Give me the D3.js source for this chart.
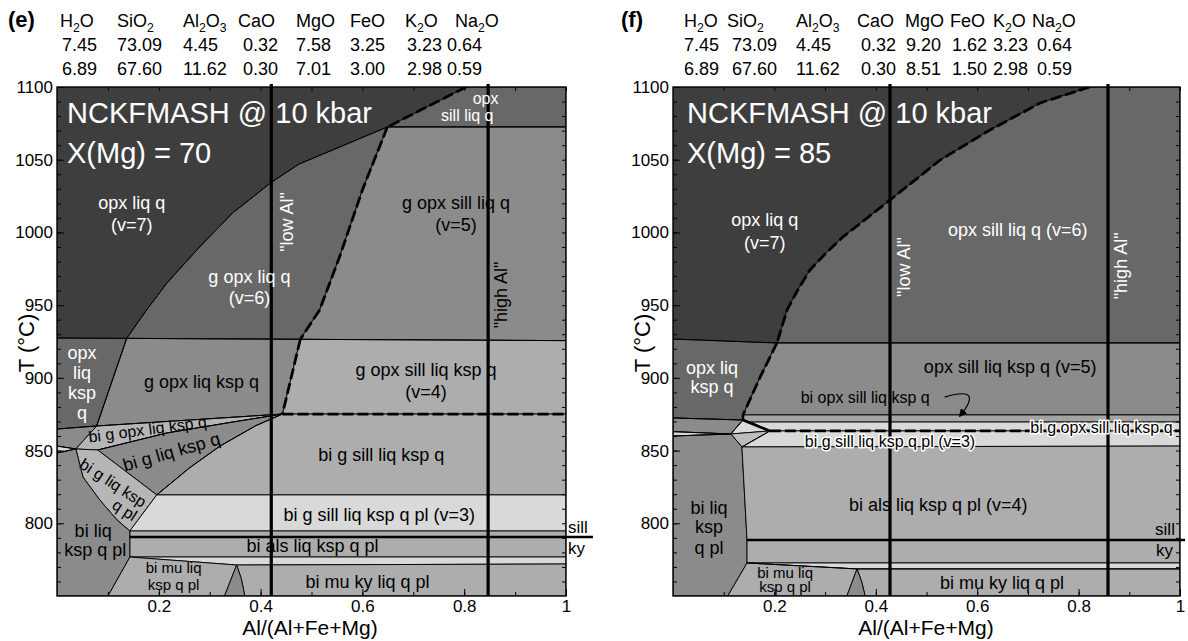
<!DOCTYPE html>
<html><head><meta charset="utf-8">
<script src="https://cdn.jsdelivr.net/npm/d3@7"></script>
<style>
body{margin:0;background:#fff}
svg{display:block}
text{font-family:"Liberation Sans",Arial,Helvetica,sans-serif}
</style>
</head><body>
<svg id="c" width="1188" height="641"></svg>
<script>
// ---------------- DATA ----------------
const oxides = ["H2O","SiO2","Al2O3","CaO","MgO","FeO","K2O","Na2O"];
const compE_low  = [7.45,73.09,4.45,0.32,7.58,3.25,3.23,0.64];
const compE_high = [6.89,67.60,11.62,0.30,7.01,3.00,2.98,0.59];
const compF_low  = [7.45,73.09,4.45,0.32,9.20,1.62,3.23,0.64];
const compF_high = [6.89,67.60,11.62,0.30,8.51,1.50,2.98,0.59];
const yTickValues = [800,850,900,950,1000,1050,1100];
const xTickValues = [0.2,0.4,0.6,0.8,1];
const xTickLabels = ["0.2","0.4","0.6","0.8","1"];
const lowAl  = {e:0.421, f:0.428};
const highAl = {e:0.847, f:0.858};

// Panel (e) boundaries  [X(Al), T °C]
const eThin      = [[0.137,927.15],[0.176,946.7],[0.216,965.2],[0.280,990.0],[0.345,1013.4],[0.422,1034.7],[0.476,1047.1],[0.649,1072.5]];
const eDashTop   = [[0.804,1100],[0.649,1072.5]];
const eDashUpper = [[0.649,1072.5],[0.600,1029.2],[0.555,983.1],[0.516,946.7],[0.478,926.5]];
const eDashLower = [[0.478,926.5],[0.443,875.1]];
const eDashH     = [[0.443,875.1],[1,875.1]];
const eH927      = [[0,927.4],[0.137,927.15],[0.478,926.5],[1,925.6]];
const eH1072     = [[0.649,1072.5],[1,1072.5]];
const eOpxKsp    = [[0.137,927.15],[0.078,866.9]];
const eKspIn     = [[0,864.8],[0.078,866.9],[0.443,875.1]];
const eStripTop  = [[0,853.1],[0.037,851.1]];
const eStripBot  = [[0,848.3],[0.037,851.1]];
const eBiIn      = [[0.080,850.4],[0.216,862.1],[0.345,869.6],[0.443,875.1]];
const eGout      = [[0.443,875.1],[0.39,867.0],[0.32,853.0],[0.26,838.0],[0.196,819.5]];
const ePlL       = [[0.037,851.1],[0.051,831.8],[0.084,816.0],[0.118,802.3],[0.143,794.7]];
const eSillKy    = [[0.143,790.6],[1.053,790.6]];
const eMuTop     = [[0.143,776.8],[0.353,771.3],[1,772.0]];
const eTri       = [[0.329,750],[0.353,771.3],[0.362,762],[0.369,750]];

// Panel (f) boundaries
const fDash      = [[0.822,1100],[0.724,1089.0],[0.625,1070.4],[0.527,1049.8],[0.428,1022.3],[0.335,996.9],[0.302,985.9],[0.270,974.2],[0.246,960.4],[0.225,946.7],[0.205,924.0]];
const fDashLower = [[0.205,924.0],[0.172,900.6],[0.138,874.5]];
const fThick     = [[0.138,874.5],[0.138,871.0],[0.191,863.5]];
const fDashH     = [[0.191,863.5],[1,863.5]];
const fH924      = [[0,926.7],[0.205,924.0],[1,924.0]];
const fOpxKspBot = [[0,872.4],[0.138,871.0]];
const fStripTop  = [[0,863.0],[0.114,861.4]];
const fStripBot  = [[0,860.0],[0.114,861.4]];
const fDiamond   = [[0.114,861.4],[0.138,871.0],[0.191,863.5],[0.136,852.5]];
const fLeftB     = [[0.136,852.5],[0.146,788.5],[0.146,772.7],[0.108,750]];
const fSillKy    = [[0.146,788.5],[1.01,788.5]];
const fMuTop     = [[0.146,772.7],[0.363,768.6],[1,768.6]];
const fTri       = [[0.343,750],[0.363,768.6],[0.372,760],[0.379,750]];
const fArrow     = [[0.536,886.8],[0.615,895.0],[0.566,873.8]];

// ---------------- STYLE / LAYOUT ----------------
const C1="#3e3e3e", C2="#686868", C3="#8b8b8b", C4="#adadad", C4b="#b6b6b6", C5="#d9d9d9";
const rev = a => a.slice().reverse();

const eRegions = [
  {fill:C2, pts:[...eDashTop,[1,1072.5],[1,1100]]},
  {fill:C2, pts:[...eThin, ...eDashUpper.slice(1)]},
  {fill:C3, pts:[...eDashUpper,[1,925.6],[1,1072.5]]},
  {fill:C2, pts:[[0,927.4],[0.137,927.15],[0.078,866.9],[0,864.8]]},
  {fill:C3, pts:[[0.137,927.15],[0.478,926.5],[0.443,875.1],[0.078,866.9]]},
  {fill:C4, pts:[[0.478,926.5],[1,925.6],[1,875.1],[0.443,875.1]]},
  {fill:C3, pts:[[0,864.8],[0.078,866.9],[0.037,851.1],[0,853.1]]},
  {fill:C5, pts:[[0,853.1],[0.037,851.1],[0,848.3]]},
  {fill:C4b,pts:[[0.037,851.1],[0.078,866.9],[0.443,875.1],...rev(eBiIn).slice(1)]},
  {fill:C3, pts:[...eBiIn, ...eGout.slice(1)]},
  {fill:C4b,pts:[[0.037,851.1],[0.080,850.4],[0.196,819.5],[0.143,794.7],...rev(ePlL).slice(1)]},
  {fill:C4, pts:[[0.443,875.1],[1,875.1],[1,819.5],...rev(eGout).slice(0,-1)]},
  {fill:C5, pts:[[0.196,819.5],[1,819.5],[1,794.7],[0.143,794.7]]},
  {fill:C4, pts:[[0.143,794.7],[1,794.7],[1,776.8],[0.143,776.8]]},
  {fill:C5, pts:[[0.143,776.8],[1,776.8],[1,772.0],[0.353,771.3]]},
  {fill:C4, pts:[[0.353,771.3],[1,772.0],[1,750],[0.369,750],[0.362,762]]},
  {fill:C4, pts:[[0.143,776.8],[0.353,771.3],[0.329,750],[0.100,750]]},
  {fill:C3, pts:eTri},
  {fill:C3, pts:[[0,848.3],...ePlL,[0.143,776.8],[0.100,750],[0,750]]}
];

const fRegions = [
  {fill:C2, pts:[...fDash,[1,924.0],[1,1100]]},
  {fill:C2, pts:[[0,926.7],[0.205,924.0],...fDashLower.slice(1),[0.138,871.0],[0,872.4]]},
  {fill:C3, pts:[[0.205,924.0],[1,924.0],[1,874.5],[0.138,874.5],[0.172,900.6]]},
  {fill:"#a4a4a4", pts:[[0.138,874.5],[1,874.5],[1,869.6],[0.154,869.6],[0.138,871.0]]},
  {fill:C5, pts:[[0.154,869.6],[1,869.6],[1,863.5],[0.191,863.5]]},
  {fill:C5, pts:[[0.191,863.5],[1,863.5],[1,853.1],[0.136,852.5]]},
  {fill:C3, pts:[[0,872.4],[0.138,871.0],[0.114,861.4],[0,863.0]]},
  {fill:C5, pts:[[0,863.0],[0.114,861.4],[0,860.0]]},
  {fill:C5, pts:[[0.114,861.4],[0.138,871.0],[0.191,863.5]]},
  {fill:"#bcbcbc", pts:[[0.114,861.4],[0.191,863.5],[0.136,852.5]]},
  {fill:C3, pts:[[0,860.0],[0.114,861.4],...fLeftB,[0,750]]},
  {fill:C4, pts:[[0.136,852.5],[1,853.1],[1,772.7],[0.146,772.7],[0.146,788.5]]},
  {fill:C5, pts:[[0.146,772.7],[1,772.7],[1,768.6],[0.363,768.6]]},
  {fill:C4, pts:[[0.363,768.6],[1,768.6],[1,750],[0.379,750],[0.372,760]]},
  {fill:C4, pts:[[0.146,772.7],[0.363,768.6],[0.343,750],[0.108,750]]},
  {fill:C3, pts:fTri}
];

// annotations: text, position (X, T), colour, size, rotation
const eAnnotations = [
  {t:"opx liq q", x:0.147, T:1020.2, c:"#fff"},
  {t:"(v=7)", x:0.147, T:1005.1, c:"#fff"},
  {t:"g opx liq q", x:0.378, T:969.4, c:"#fff"},
  {t:"(v=6)", x:0.378, T:954.9, c:"#fff"},
  {t:"g opx sill liq q", x:0.784, T:1020.2, c:"#000"},
  {t:"(v=5)", x:0.784, T:1005.1, c:"#000"},
  {t:"opx", x:0.842, T:1092.3, c:"#fff", s:16},
  {t:"sill liq q", x:0.806, T:1080.3, c:"#fff", s:16},
  {t:"opx", x:0.049, T:917.1, c:"#fff"},
  {t:"liq", x:0.049, T:903.3, c:"#fff"},
  {t:"ksp", x:0.049, T:889.6, c:"#fff"},
  {t:"q", x:0.049, T:875.8, c:"#fff"},
  {t:"g opx liq ksp q", x:0.284, T:897.2, c:"#000"},
  {t:"g opx sill liq ksp q", x:0.725, T:905.4, c:"#000"},
  {t:"(v=4)", x:0.725, T:890.3, c:"#000"},
  {t:"bi g opx liq ksp q", x:0.178, T:864.6, c:"#000", s:16, r:-7.5},
  {t:"bi g liq ksp q", x:0.225, T:849.0, c:"#000", s:18, r:-16},
  {t:"bi g liq ksp", x:0.110, T:827.7, c:"#000", s:16, r:33},
  {t:"q pl", x:0.133, T:809.1, c:"#000", s:16, r:33},
  {t:"bi g sill liq ksp q", x:0.637, T:846.9, c:"#000"},
  {t:"bi g sill liq ksp q pl (v=3)", x:0.633, T:805.7, c:"#000"},
  {t:"bi als liq ksp q pl", x:0.502, T:784.6, c:"#000"},
  {t:"bi liq", x:0.071, T:794.7, c:"#000"},
  {t:"ksp q pl", x:0.075, T:781.6, c:"#000"},
  {t:"bi mu liq", x:0.229, T:769.3, c:"#000", s:15},
  {t:"ksp q pl", x:0.229, T:757.6, c:"#000", s:15},
  {t:"bi mu ky liq q pl", x:0.610, T:759.6, c:"#000"},
  {t:"sill", x:1.004, T:796.8, c:"#000", a:"start", s:17},
  {t:"ky", x:1.004, T:783.0, c:"#000", a:"start", s:17},
  {t:"\"low Al\"", x:0.451, T:1007.2, c:"#fff", r:-90},
  {t:"\"high Al\"", x:0.873, T:957.0, c:"#000", r:-90}
];
const fAnnotations = [
  {t:"opx liq q", x:0.181, T:1008.5, c:"#fff"},
  {t:"(v=7)", x:0.181, T:992.7, c:"#fff"},
  {t:"opx sill liq q (v=6)", x:0.680, T:1001.7, c:"#fff"},
  {t:"opx liq", x:0.077, T:906.8, c:"#fff"},
  {t:"ksp q", x:0.077, T:893.7, c:"#fff"},
  {t:"opx sill liq ksp q (v=5)", x:0.665, T:907.5, c:"#000"},
  {t:"bi opx sill liq ksp q", x:0.379, T:886.8, c:"#000", s:16},
  {t:"bi g opx sill liq ksp q", x:0.845, T:866.0, c:"#000", s:16, halo:true},
  {t:"bi g sill liq ksp q pl (v=3)", x:0.428, T:855.9, c:"#000", s:16, halo:true},
  {t:"bi als liq ksp q pl (v=4)", x:0.523, T:812.6, c:"#000"},
  {t:"bi liq", x:0.071, T:810.5, c:"#000"},
  {t:"ksp", x:0.071, T:797.4, c:"#000"},
  {t:"q pl", x:0.071, T:783.0, c:"#000"},
  {t:"bi mu liq", x:0.221, T:766.5, c:"#000", s:15},
  {t:"ksp q pl", x:0.221, T:756.2, c:"#000", s:15},
  {t:"bi mu ky liq q pl", x:0.649, T:759.0, c:"#000"},
  {t:"sill", x:0.99, T:795.4, c:"#000", a:"end", s:17},
  {t:"ky", x:0.986, T:781.6, c:"#000", a:"end", s:17},
  {t:"\"low Al\"", x:0.456, T:976.2, c:"#fff", r:-90},
  {t:"\"high Al\"", x:0.884, T:977.0, c:"#fff", r:-90}
];

const panels = [
  {id:"e", x0:57, x1:566, label:"(e)", labelX:8, xm:"70",
   oxX:[60,117,183,238,296,350,405,455], valX:[62,117,183,243,296,350,407,447],
   low:compE_low, high:compE_high, regions:eRegions, ann:eAnnotations,
   thin:[eThin,eH927,eH1072,eOpxKsp,eKspIn,eStripTop,eStripBot,eBiIn,eGout],
   dashed:[eDashTop,eDashUpper,eDashLower,eDashH], thick:[], sillky:eSillKy,
   al:[lowAl.e, highAl.e], titleX:67, xlabX:310, ylabX:34},
  {id:"f", x0:673, x1:1180, label:"(f)", labelX:621, xm:"85",
   oxX:[684,727,796,857,905,950,993,1032], valX:[684,732,796,861,906,952,993,1037],
   low:compF_low, high:compF_high, regions:fRegions, ann:fAnnotations,
   thin:[fH924,fOpxKspBot,fStripTop,fStripBot,fDiamond,fMuTop],
   dashed:[fDash,fDashLower,fDashH], thick:[fThick], sillky:fSillKy,
   al:[lowAl.f, highAl.f], titleX:687, xlabX:926, ylabX:650, arrow:fArrow}
];

// ---------------- DRAW ----------------
const svg = d3.select("#c");
const defs = svg.append("defs");
defs.append("marker").attr("id","ah").attr("viewBox","0 0 10 10").attr("refX",8).attr("refY",5)
  .attr("markerWidth",7).attr("markerHeight",7).attr("orient","auto-start-reverse")
  .append("path").attr("d","M0,0 L10,5 L0,10 z").attr("fill","#000");

function formula(sel, s, size) {
  const parts = s.match(/[A-Za-z]+|\d+/g);
  parts.forEach(p => {
    if (/\d/.test(p)) sel.append("tspan").attr("font-size", size*0.68).attr("dy", size*0.25).text(p);
    else {
      const t = sel.append("tspan").text(p);
      if (sel.node().childNodes.length > 1) t.attr("dy", -size*0.25);
    }
  });
}

const HF = 18;
panels.forEach(p => {
  const x = d3.scaleLinear().domain([0,1]).range([p.x0, p.x1]);
  const y = d3.scaleLinear().domain([750,1100]).range([596,87]);
  const line = d3.line().x(d=>x(d[0])).y(d=>y(d[1]));
  const g = svg.append("g");

  // header
  g.append("text").attr("x",p.labelX).attr("y",27).attr("font-size",22).attr("font-weight","bold").text(p.label);
  oxides.forEach((o,i)=>{
    formula(g.append("text").attr("x",p.oxX[i]).attr("y",27).attr("font-size",HF), o, HF);
    g.append("text").attr("x",p.valX[i]).attr("y",51).attr("font-size",HF).text(p.low[i].toFixed(2));
    g.append("text").attr("x",p.valX[i]).attr("y",75).attr("font-size",HF).text(p.high[i].toFixed(2));
  });

  const clipId = "clip"+p.id;
  defs.append("clipPath").attr("id",clipId).append("rect")
    .attr("x",x(0)).attr("y",y(1100)).attr("width",x(1)-x(0)).attr("height",y(750)-y(1100));
  const plot = g.append("g").attr("clip-path",`url(#${clipId})`);
  plot.append("rect").attr("x",x(0)).attr("y",y(1100)).attr("width",x(1)-x(0)).attr("height",y(750)-y(1100)).attr("fill",C1);
  p.regions.forEach(r=>{
    plot.append("path").attr("d",line(r.pts)+"Z").attr("fill",r.fill)
      .attr("stroke","#000").attr("stroke-width",0.9).attr("stroke-linejoin","round");
  });
  p.thin.forEach(b=>plot.append("path").attr("d",line(b)).attr("fill","none").attr("stroke","#000").attr("stroke-width",0.9));
  p.thick.forEach(b=>plot.append("path").attr("d",line(b)).attr("fill","none").attr("stroke","#000").attr("stroke-width",2.6));
  p.dashed.forEach(b=>{
    plot.append("path").attr("d",line(b)).attr("fill","none").attr("stroke","#000").attr("stroke-width",2.8)
      .attr("stroke-dasharray","11,4").attr("stroke-linejoin","round");
  });
  // Al composition lines
  p.al.forEach(v=>{
    g.append("line").attr("x1",x(v)).attr("x2",x(v)).attr("y1",y(1100)-3).attr("y2",y(750))
      .attr("stroke","#000").attr("stroke-width",3.2);
  });
  // sill = ky
  g.append("path").attr("d",line(p.sillky)).attr("stroke","#000").attr("stroke-width",2.4).attr("fill","none");

  // annotations
  p.ann.forEach(a=>{
    const px = x(a.x), py = y(a.T);
    const t = g.append("text").attr("text-anchor",a.a||"middle").attr("dominant-baseline","central")
      .attr("font-size",a.s||18).attr("fill",a.c)
      .attr("transform",`translate(${px},${py})` + (a.r?` rotate(${a.r})`:""))
      .text(a.t);
    if (a.halo) t.attr("stroke","#fff").attr("stroke-width",3).attr("stroke-linejoin","round").attr("paint-order","stroke");
  });
  if (p.arrow) {
    const [s,c,e] = p.arrow;
    g.append("path").attr("d",`M${x(s[0])},${y(s[1])} Q${x(c[0])},${y(c[1])} ${x(e[0])},${y(e[1])}`)
      .attr("fill","none").attr("stroke","#000").attr("stroke-width",1.2).attr("marker-end","url(#ah)");
  }

  // title
  g.append("text").attr("x",p.titleX).attr("y",123).attr("font-size",29).attr("fill","#fff").text("NCKFMASH @ 10 kbar");
  g.append("text").attr("x",p.titleX).attr("y",163).attr("font-size",29).attr("fill","#fff").text("X(Mg) = "+p.xm);

  // frame & axes
  g.append("rect").attr("x",x(0)).attr("y",y(1100)).attr("width",x(1)-x(0)).attr("height",y(750)-y(1100))
    .attr("fill","none").attr("stroke","#000").attr("stroke-width",1.4);
  const minorY = d3.range(760,1100,10);
  const minorX = d3.range(0.1,1.0001,0.1);
  const ax = (axis, tr) => { const a = g.append("g").attr("transform",tr).call(axis); a.select(".domain").remove(); return a; };
  ax(d3.axisLeft(y).tickValues(minorY).tickSize(-4).tickFormat(""), `translate(${x(0)},0)`);
  ax(d3.axisRight(y).tickValues(minorY).tickSize(-4).tickFormat(""), `translate(${x(1)},0)`);
  ax(d3.axisBottom(x).tickValues(minorX).tickSize(-4).tickFormat(""), `translate(0,${y(750)})`);
  ax(d3.axisTop(x).tickValues(minorX).tickSize(-4).tickFormat(""), `translate(0,${y(1100)})`);
  const yl = ax(d3.axisLeft(y).tickValues(yTickValues).tickFormat(d3.format("d")).tickSize(-7).tickPadding(4), `translate(${x(0)},0)`);
  yl.selectAll("text").attr("font-size",17).attr("font-family",'"Liberation Sans",Arial,sans-serif').attr("fill","#000");
  const xl = ax(d3.axisBottom(x).tickValues(xTickValues).tickFormat((d,i)=>xTickLabels[i]).tickSize(-7).tickPadding(4), `translate(0,${y(750)})`);
  xl.selectAll("text").attr("font-size",17).attr("font-family",'"Liberation Sans",Arial,sans-serif').attr("fill","#000");
  g.selectAll(".tick line").attr("stroke","#000");

  g.append("text").attr("x",p.xlabX).attr("y",635).attr("text-anchor","middle").attr("font-size",21).text("Al/(Al+Fe+Mg)");
  g.append("text").attr("transform",`translate(${p.ylabX},343) rotate(-90)`).attr("text-anchor","middle").attr("font-size",22).text("T (°C)");
});
</script>
</body></html>
